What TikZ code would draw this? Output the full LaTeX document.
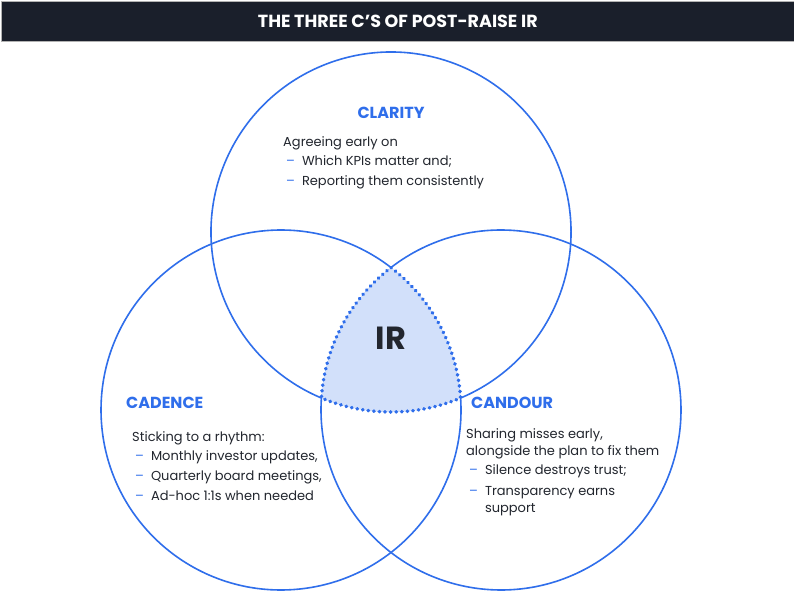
\documentclass[tikz,border=0pt]{standalone}
\usepackage{fontspec}
\setmainfont{Poppins}
\usetikzlibrary{positioning}
\definecolor{navy}{HTML}{1A1F2B}
\definecolor{irblue}{HTML}{2F6EEB}
\definecolor{irfill}{HTML}{D2E0FA}
\definecolor{ink}{HTML}{22262E}
\newcommand{\dash}{\textcolor{irblue}{--}}

\begin{document}
\begin{tikzpicture}[
  x=1pt,y=-1pt,
  ring/.style={draw=irblue,line width=1.6pt},
  dots/.style={draw=irblue,line width=3.6pt,line cap=round,dash pattern=on 0.4pt off 5.2pt},
  head/.style={font=\fontsize{16}{18}\selectfont\bfseries,text=irblue,inner sep=0pt},
  body/.style={font=\fontsize{13}{17}\selectfont,text=ink,inner sep=0pt,align=left,anchor=north west},
]
\useasboundingbox (0,0) rectangle (794,600);
\fill[white] (0,0) rectangle (794,600);
% title bar
\node[fill=navy,draw=gray!60,line width=0.6pt,minimum width=794pt,minimum height=40pt,anchor=north west,inner sep=0pt,
  text=white,font=\fontsize{17.5}{18}\selectfont\bfseries] (title) at (0.5,1) {THE THREE C’S OF POST-RAISE IR};
% centres of the three circles (r = 180)
\coordinate (cTop) at (391,232);
\coordinate (cLft) at (281,410);
\coordinate (cRgt) at (501,410);
% corners of the overlap
\coordinate (v1) at (391,267.52);
\coordinate (v2) at (321.4,398);
\coordinate (v3) at (460.6,398);
% overlap: filled, dotted edge
\path[fill=irfill,dots] (v1) arc[start angle=-52.33,end angle=-3.82,radius=180]
  arc[start angle=67.25,end angle=112.75,radius=180]
  arc[start angle=183.82,end angle=232.33,radius=180] -- cycle;
% the rest of each circle
\draw[ring] (v2) arc[start angle=112.75,end angle=427.25,radius=180];
\draw[ring] (v3) arc[start angle=-3.82,end angle=307.67,radius=180];
\draw[ring] (v1) arc[start angle=232.33,end angle=543.82,radius=180];
\node[font=\fontsize{32}{34}\selectfont\bfseries,text=ink] (ir) at (391,338) {IR};
% clarity
\node[head] (clarity) at (391,113) {CLARITY};
\node[body] (clarityTxt) at (283,136) {Agreeing early on\\[3pt]
  \begin{tabular}{@{\hspace{3pt}}l@{\hspace{7pt}}l@{}}
  \dash & Which KPIs matter and;\\[3pt]
  \dash & Reporting them consistently
  \end{tabular}};
% cadence
\node[head,anchor=west] (cadence) at (126,403) {CADENCE};
\node[body] (cadenceTxt) at (132,431) {Sticking to a rhythm:\\[3pt]
  \begin{tabular}{@{\hspace{3pt}}l@{\hspace{7pt}}l@{}}
  \dash & Monthly investor updates,\\[3pt]
  \dash & Quarterly board meetings,\\[3pt]
  \dash & Ad-hoc 1:1s when needed
  \end{tabular}};
% candour
\node[head,anchor=west] (candour) at (471,403) {CANDOUR};
\node[body] (candourTxt) at (466,428) {Sharing misses early,\\
  alongside the plan to fix them\\[3pt]
  \begin{tabular}{@{\hspace{3pt}}l@{\hspace{7pt}}l@{}}
  \dash & Silence destroys trust;\\[4pt]
  \dash & Transparency earns\\
        & support
  \end{tabular}};
\end{tikzpicture}
\end{document}
